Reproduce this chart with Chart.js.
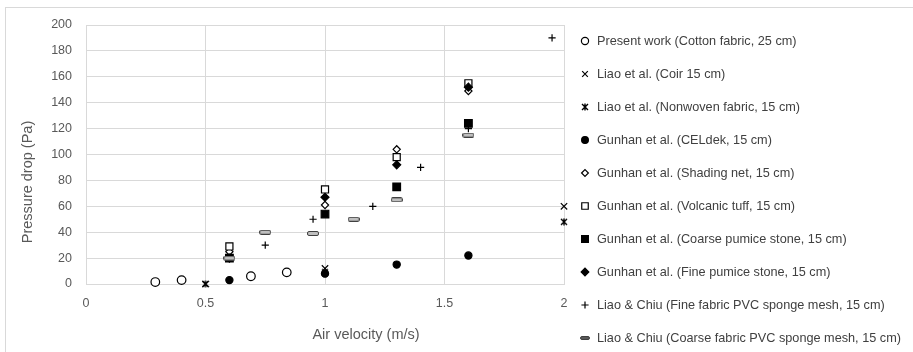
<!DOCTYPE html>
<html>
<head>
<meta charset="utf-8">
<script src="https://cdn.jsdelivr.net/npm/chart.js@4/dist/chart.umd.min.js"></script>
<style>
  html, body { margin: 0; padding: 0; background: #fff; }
  #wrap { position: relative; width: 913px; height: 352px; overflow: hidden; }
  #frame { position: absolute; left: 5px; top: 7px; width: 1000px; height: 400px;
           border-top: 1px solid #d9d9d9; border-left: 1px solid #d9d9d9; }
  canvas { position: absolute; left: 0; top: 0; }
</style>
</head>
<body>
<div id="wrap">
  <div id="frame"></div>
  <canvas id="chart" width="913" height="352"></canvas>
</div>
<script>
// series labels
const seriesLabels = [
  'Present work (Cotton fabric, 25 cm)',
  'Liao et al. (Coir 15 cm)',
  'Liao et al. (Nonwoven fabric, 15 cm)',
  'Gunhan et al. (CELdek, 15 cm)',
  'Gunhan et al. (Shading net, 15 cm)',
  'Gunhan et al. (Volcanic tuff, 15 cm)',
  'Gunhan et al. (Coarse pumice stone, 15 cm)',
  'Gunhan et al. (Fine pumice stone, 15 cm)',
  'Liao & Chiu (Fine fabric PVC sponge mesh, 15 cm)',
  'Liao & Chiu (Coarse fabric PVC sponge mesh, 15 cm)'
];

// air velocity (m/s) and pressure drop (Pa) per series
const presentX = [0.29, 0.40, 0.69, 0.84];
const presentY = [1.5, 3, 6, 9];
const coirX = [0.5, 1.0, 2.0];
const coirY = [0, 12, 60];
const nonwovenX = [0.5, 1.0, 2.0];
const nonwovenY = [0, 9, 48];
const celdekX = [0.6, 1.0, 1.3, 1.6];
const celdekY = [3, 8, 15, 22];
const shadingX = [0.6, 1.0, 1.3, 1.6];
const shadingY = [25, 61, 104, 149];
const tuffX = [0.6, 1.0, 1.3, 1.6];
const tuffY = [29, 73, 98, 155];
const coarsePumiceX = [0.6, 1.0, 1.3, 1.6];
const coarsePumiceY = [20, 54, 75, 124];
const finePumiceX = [0.6, 1.0, 1.3, 1.6];
const finePumiceY = [20, 67, 92, 152];
const finePvcX = [0.75, 0.95, 1.2, 1.4, 1.6, 1.95];
const finePvcY = [30, 50, 60, 90, 120, 190];
const coarsePvcX = [0.6, 0.75, 0.95, 1.12, 1.3, 1.6];
const coarsePvcY = [20, 40, 39, 50, 65, 115];

// tick labels
const xTickLabels = ['0', '0.5', '1', '1.5', '2'];
const yTickLabels = ['0', '20', '40', '60', '80', '100', '120', '140', '160', '180', '200'];

const seriesX = [presentX, coirX, nonwovenX, celdekX, shadingX, tuffX, coarsePumiceX, finePumiceX, finePvcX, coarsePvcX];
const seriesY = [presentY, coirY, nonwovenY, celdekY, shadingY, tuffY, coarsePumiceY, finePumiceY, finePvcY, coarsePvcY];

const FONT = '"Liberation Sans", Arial, sans-serif';
const TEXT = '#595959';

// small canvases for the two Excel markers Chart.js doesn't have
function starMarker(s) {
  const c = document.createElement('canvas');
  c.width = s; c.height = s;
  const g = c.getContext('2d');
  g.strokeStyle = '#000';
  g.lineWidth = 1.4;
  g.beginPath();
  g.moveTo(1, 1); g.lineTo(s - 1, s - 1);
  g.moveTo(s - 1, 1); g.lineTo(1, s - 1);
  g.moveTo(s / 2, 0.5); g.lineTo(s / 2, s - 0.5);
  g.stroke();
  return c;
}
function dashMarker(w, h, fill, line) {
  const c = document.createElement('canvas');
  c.width = w; c.height = h;
  const g = c.getContext('2d');
  g.fillStyle = fill;
  g.strokeStyle = line;
  g.lineWidth = 1;
  g.beginPath();
  g.roundRect(0.5, 0.5, w - 1, h - 1, 1.5);
  g.fill();
  g.stroke();
  return c;
}

const starImg = starMarker(8);
const dashImg = dashMarker(12, 5, '#bfbfbf', '#404040');
const dashLegendImg = dashMarker(10, 4, '#595959', '#404040');

// style per series
const markerStyles = [
  { pointStyle: 'circle', radius: 4.3, bg: '#fff' },
  { pointStyle: 'crossRot', radius: 4.5, bg: '#000' },
  { pointStyle: starImg, radius: 4, bg: '#000' },
  { pointStyle: 'circle', radius: 3.6, bg: '#000' },
  { pointStyle: 'rectRot', radius: 3.6, bg: '#fff' },
  { pointStyle: 'rect', radius: 5, bg: '#fff' },
  { pointStyle: 'rect', radius: 5.4, bg: '#000' },
  { pointStyle: 'rectRot', radius: 4, bg: '#000' },
  { pointStyle: 'cross', radius: 3.6, bg: '#000' },
  { pointStyle: dashImg, radius: 5, bg: '#bfbfbf' }
];
const legendStyles = [
  { pointStyle: 'circle', radius: 3.6, bg: '#fff' },
  { pointStyle: 'crossRot', radius: 4, bg: '#000' },
  { pointStyle: starImg, radius: 4, bg: '#000' },
  { pointStyle: 'circle', radius: 3.4, bg: '#000' },
  { pointStyle: 'rectRot', radius: 3.4, bg: '#fff' },
  { pointStyle: 'rect', radius: 4.6, bg: '#fff' },
  { pointStyle: 'rect', radius: 4.8, bg: '#000' },
  { pointStyle: 'rectRot', radius: 3.8, bg: '#000' },
  { pointStyle: 'cross', radius: 3.6, bg: '#000' },
  { pointStyle: dashLegendImg, radius: 4, bg: '#595959' }
];

const datasets = seriesLabels.map((label, i) => ({
  label: label,
  data: seriesX[i].map((x, j) => ({ x: x, y: seriesY[i][j] })),
  pointStyle: markerStyles[i].pointStyle,
  pointRadius: markerStyles[i].radius,
  pointBackgroundColor: markerStyles[i].bg,
  pointBorderColor: '#000',
  pointBorderWidth: 1.2,
  showLine: false,
  clip: false,
  order: -i
}));

// legend + axis titles drawn at Excel's spots
const sideLegend = {
  id: 'sideLegend',
  afterDraw(chart) {
    const ctx = chart.ctx;
    ctx.save();
    chart.data.datasets.forEach((ds, i) => {
      const y = 41 + i * 33;
      const st = legendStyles[i];
      ctx.fillStyle = st.bg;
      ctx.strokeStyle = '#000';
      ctx.lineWidth = 1.2;
      Chart.helpers.drawPoint(ctx, { pointStyle: st.pointStyle, radius: st.radius, borderWidth: 1.2, rotation: 0 }, 585, y);
      ctx.fillStyle = '#404040';
      ctx.font = '12.7px ' + FONT;
      ctx.textAlign = 'left';
      ctx.textBaseline = 'middle';
      ctx.fillText(ds.label, 597, y + 0.5);
    });

    ctx.fillStyle = TEXT;
    ctx.font = '14.5px ' + FONT;
    ctx.textAlign = 'center';
    ctx.textBaseline = 'middle';
    ctx.fillText('Air velocity (m/s)', 366, 335);
    ctx.translate(28, 182);
    ctx.rotate(-Math.PI / 2);
    ctx.fillText('Pressure drop (Pa)', 0, 0);
    ctx.restore();
  }
};

new Chart(document.getElementById('chart'), {
  type: 'scatter',
  data: { datasets: datasets },
  options: {
    responsive: false,
    animation: false,
    layout: { padding: { left: 0, top: 25, right: 349, bottom: 0 } },
    plugins: {
      legend: { display: false },
      tooltip: { enabled: false }
    },
    scales: {
      x: {
        type: 'linear',
        min: 0,
        max: 2,
        afterFit: (scale) => { scale.height = 68; },
        grid: { color: '#d9d9d9', drawTicks: false },
        border: { color: '#d9d9d9' },
        ticks: {
          stepSize: 0.5,
          padding: 12,
          color: TEXT,
          font: { family: FONT, size: 12.5 },
          callback: (v, idx) => xTickLabels[idx]
        }
      },
      y: {
        min: 0,
        max: 200,
        afterFit: (scale) => { scale.width = 86; },
        grid: { color: '#d9d9d9', drawTicks: false },
        border: { color: '#d9d9d9' },
        ticks: {
          stepSize: 20,
          padding: 14,
          color: TEXT,
          font: { family: FONT, size: 12.5 },
          callback: (v, idx) => yTickLabels[idx]
        }
      }
    }
  },
  plugins: [sideLegend]
});
</script>
</body>
</html>
